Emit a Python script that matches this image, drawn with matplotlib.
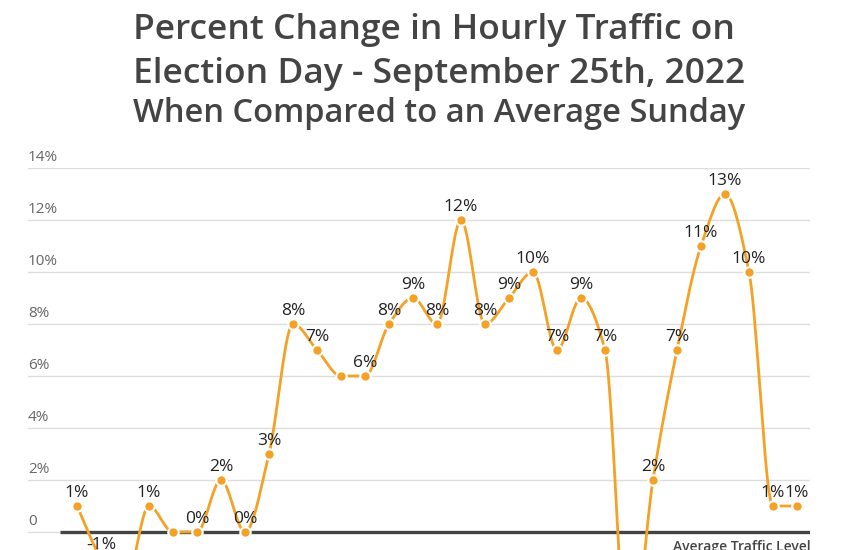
import numpy as np
import matplotlib
matplotlib.use("Agg")
import matplotlib.pyplot as plt

# percent change per hour vs. an average Sunday (two low points fall below the crop)
horas = list(range(31))
cambio = [1, -1, -2, 1, 0, 0, 2, 0, 3, 8, 7, 6, 6, 8, 9, 8, 12, 8, 9, 10,
          7, 9, 7, -5, 2, 7, 11, 13, 10, 1, 1]
# the original hides a label where two equal neighbours would overlap
etiquetas = [f"{v}%" for v in cambio]
etiquetas[4] = ""
etiquetas[11] = ""
ticks_y = [0, 2, 4, 6, 8, 10, 12, 14]
ticks_txt = ["0", "2%", "4%", "6%", "8%", "10%", "12%", "14%"]

naranja = "#F4A125"
gris = "#444444"


def monotona(x, y, n=20):
    # curva cubica monotona (tipo d3 monotoneX), sin sobrepasar los puntos
    x = np.asarray(x, float)
    y = np.asarray(y, float)
    h = np.diff(x)
    d = np.diff(y) / h
    m = np.zeros_like(y)
    m[0], m[-1] = d[0], d[-1]
    for i in range(1, len(y) - 1):
        if d[i - 1] * d[i] > 0:
            m[i] = 3 * (h[i - 1] + h[i]) / ((2 * h[i] + h[i - 1]) / d[i - 1] + (h[i] + 2 * h[i - 1]) / d[i])
    xs, ys = [], []
    t = np.linspace(0, 1, n)
    h00 = 2 * t**3 - 3 * t**2 + 1
    h10 = t**3 - 2 * t**2 + t
    h01 = -2 * t**3 + 3 * t**2
    h11 = t**3 - t**2
    for i in range(len(x) - 1):
        xs.extend(x[i] + t * h[i])
        ys.extend(h00 * y[i] + h10 * h[i] * m[i] + h01 * y[i + 1] + h11 * h[i] * m[i + 1])
    return np.array(xs), np.array(ys)


fig = plt.figure(figsize=(8.5, 5.5), dpi=100)
fondo = -6
# the axes run past the bottom edge of the figure, like the cropped original
ax = fig.add_axes([28 / 850, (550 - (532 - fondo * 26)) / 550,
                   (810 - 28) / 850, (532 - fondo * 26 - 168) / 550])
ax.set_xlim((28 - 77) / 24, (810 - 77) / 24)
ax.set_ylim(fondo, 14)
ax.axis("off")

for t, txt in zip(ticks_y, ticks_txt):
    ax.axhline(t, color="#dddddd", lw=1, zorder=0)
    ax.annotate(txt, (0, t), xycoords=("axes fraction", "data"),
                xytext=(0, 3), textcoords="offset pixels",
                ha="left", va="bottom", fontsize=11, color="#666666",
                family="Open Sans")

ax.plot([-0.72, 30.6], [0, 0], color=gris, lw=2.4, zorder=1, solid_capstyle="butt")
ax.text(30.55, -0.3, "Average Traffic Level", ha="right", va="top",
        fontsize=10, color=gris, fontweight="semibold", family="Open Sans")

xs, ys = monotona(horas, cambio)
ax.plot(xs, ys, color=naranja, lw=2, zorder=2)
ax.plot(horas, cambio, "o", color=naranja, ms=7.5, mec="white", mew=1.5, zorder=3)

for h, v, e in zip(horas, cambio, etiquetas):
    if e:
        ax.annotate(e, (h, v), xytext=(0, 5), textcoords="offset pixels",
                    ha="center", va="bottom", fontsize=12.5, color="#222222",
                    family="Open Sans", zorder=4)

fig.text(0.511, 1 - 30 / 550, "Percent Change in Hourly Traffic on", ha="center",
         va="center", fontsize=25.5, color=gris, fontweight="semibold", family="Open Sans")
fig.text(0.517, 1 - 74 / 550, "Election Day - September 25th, 2022", ha="center",
         va="center", fontsize=25.5, color=gris, fontweight="semibold", family="Open Sans")
fig.text(0.517, 1 - 114 / 550, "When Compared to an Average Sunday", ha="center",
         va="center", fontsize=23.5, color=gris, fontweight="semibold", family="Open Sans")

fig.savefig("out.png", dpi=100)
